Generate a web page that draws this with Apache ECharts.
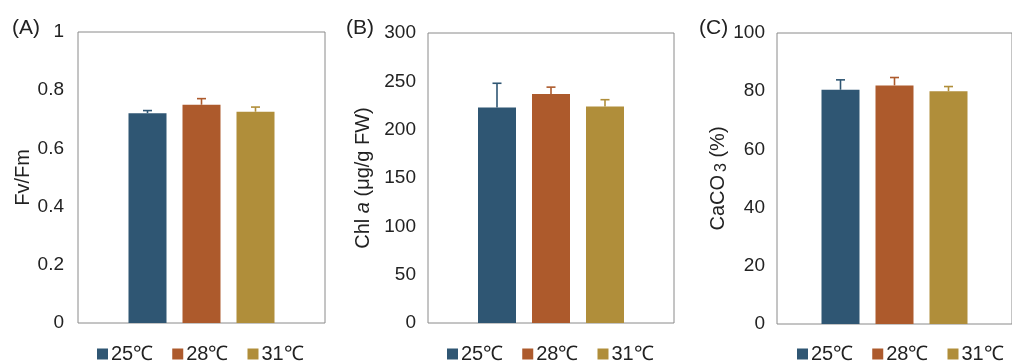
<!DOCTYPE html>
<html>
<head>
<meta charset="utf-8">
<script src="https://cdn.jsdelivr.net/npm/echarts@6/dist/echarts.min.js"></script>
<style>html,body{margin:0;padding:0;background:#fff;}#c{width:1012px;height:361px;}</style>
</head>
<body>
<div id="c"></div>
<script>
const temps = ['25℃', '28℃', '31℃'];
const panelLabels = ['(A)', '(B)', '(C)'];
const fvfm = [0.721, 0.750, 0.726];
const fvfmErr = [0.009, 0.021, 0.016];
const chla = [223, 237, 224];
const chlaErr = [25, 7, 7];
const caco3 = [80.5, 82.0, 80.0];
const caco3Err = [3.4, 2.7, 1.6];
const yMax = [1, 300, 100];
const yInterval = [0.2, 50, 20];

const colors = ['#2f5673', '#ad5a2c', '#b08e3a'];
const FONT = '"Liberation Sans", Arial, sans-serif';
const BAR_W = 38, BAR_GAP = 16;
const values = [fvfm, chla, caco3];
const errs = [fvfmErr, chlaErr, caco3Err];

const grids = [
  {left: 78, top: 32, width: 247, height: 291},
  {left: 428, top: 33, width: 246, height: 290},
  {left: 777, top: 33, width: 248, height: 291}
];
const nameGaps = [45, 55, 47];
const yNames = [
  'Fv/Fm',
  '{n|Chl }{i|a}{n| (μg/g FW)}',
  '{n|CaCO}{s|3}{n| (%)}'
];
const legendLeft = [92, 442, 792];
const titleLeft = [7, 341, 694];

const option = {
  animation: false,
  textStyle: {fontFamily: FONT},
  grid: grids.map(g => Object.assign({show: true, borderColor: '#8a8a8a', borderWidth: 1, backgroundColor: 'transparent'}, g)),
  title: panelLabels.map((t, i) => ({
    text: t, left: titleLeft[i], top: 13,
    textStyle: {fontFamily: FONT, fontSize: 21, fontWeight: 'normal', color: '#222'}
  })),
  legend: [0, 1, 2].map(i => ({
    data: temps, left: legendLeft[i], top: 339,
    icon: 'rect', itemWidth: 11, itemHeight: 11, itemGap: 19,
    textStyle: {fontFamily: FONT, fontSize: 20, color: '#222', padding: [0, 0, 0, -2]},
    selectedMode: false
  })),
  xAxis: [0, 1, 2].map(i => ({
    type: 'category', gridIndex: i, data: [''],
    axisLine: {show: false}, axisTick: {show: false}, axisLabel: {show: false}
  })),
  yAxis: [0, 1, 2].map(i => ({
    type: 'value', gridIndex: i, min: 0, max: yMax[i], interval: yInterval[i],
    name: yNames[i], nameLocation: 'middle', nameGap: nameGaps[i],
    nameTextStyle: {
      fontFamily: FONT, fontSize: 20, color: '#222',
      rich: {
        n: {fontFamily: FONT, fontSize: 20, color: '#222'},
        i: {fontFamily: FONT, fontSize: 20, color: '#222', fontStyle: 'italic'},
        s: {fontFamily: FONT, fontSize: 16, color: '#222', verticalAlign: 'bottom', padding: [6, 0, 0, 3]}
      }
    },
    axisLine: {show: false}, axisTick: {show: false}, splitLine: {show: false},
    axisLabel: {fontFamily: FONT, fontSize: 19, color: '#222', margin: i === 0 ? 14 : 12}
  })),
  series: []
};

for (let p = 0; p < 3; p++) {
  for (let k = 0; k < 3; k++) {
    option.series.push({
      type: 'bar', name: temps[k], xAxisIndex: p, yAxisIndex: p,
      data: [values[p][k]], barWidth: BAR_W, barGap: (BAR_GAP / BAR_W * 100) + '%',
      itemStyle: {color: colors[k]}
    });
  }
  option.series.push({
    type: 'custom', xAxisIndex: p, yAxisIndex: p, z: 3,
    data: [0, 1, 2].map(k => [0, values[p][k], errs[p][k], k]),
    renderItem: function (params, api) {
      const v = api.value(1), e = api.value(2), k = api.value(3);
      const off = (k - 1) * (BAR_W + BAR_GAP);
      const base = api.coord([0, v]);
      const top = api.coord([0, v + e]);
      const x = base[0] + off;
      const st = {stroke: colors[k], lineWidth: 1.6};
      return {
        type: 'group', children: [
          {type: 'line', shape: {x1: x, y1: base[1], x2: x, y2: top[1]}, style: st},
          {type: 'line', shape: {x1: x - 4.5, y1: top[1], x2: x + 4.5, y2: top[1]}, style: st}
        ]
      };
    }
  });
}

const chart = echarts.init(document.getElementById('c'));
chart.setOption(option);
</script>
</body>
</html>
